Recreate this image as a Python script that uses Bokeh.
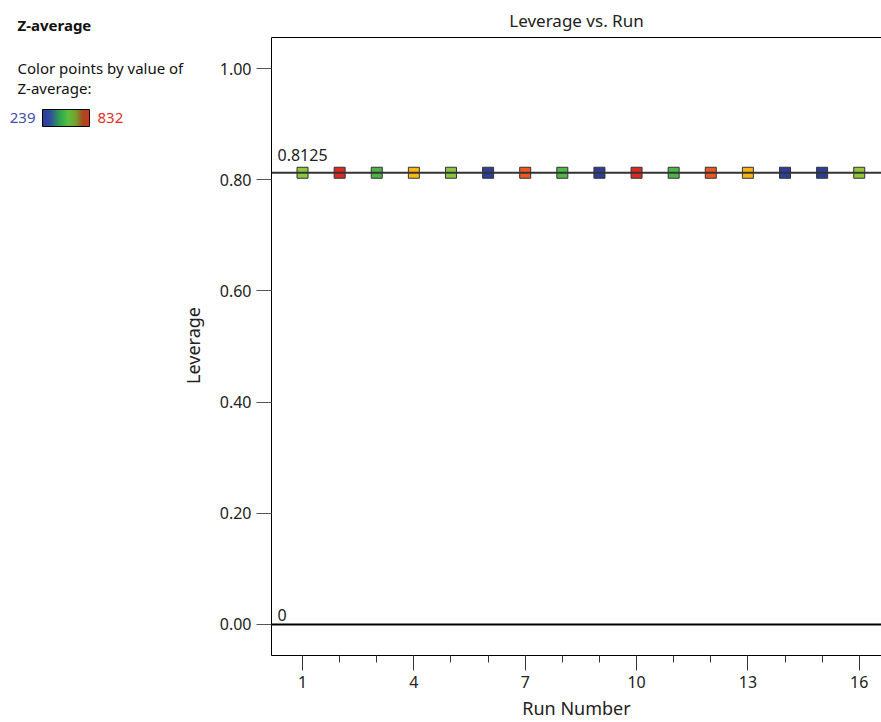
import math
from bokeh.plotting import figure
from bokeh.layouts import row
from bokeh.models import (ColumnDataSource, LinearColorMapper, ColorBar, Span, Label,
                          FixedTicker, LinearAxis, Range1d, PrintfTickFormatter)
from bokeh.embed import file_html
from bokeh.resources import INLINE

# ---- data ----
runs = list(range(1, 17))
leverage = [0.8125] * 16
z_average = [560, 832, 480, 650, 555, 250, 740, 490, 245, 820, 485, 745, 655, 239, 255, 565]
z_low, z_high = 239, 832
lev_ref = 0.8125
zero_ref = 0.0
y_ticks = [0.0, 0.2, 0.4, 0.6, 0.8, 1.0]
x_major = [1, 4, 7, 10, 13, 16]
x_minor = list(range(1, 17))
x_lo, x_hi = 0.164, 16.6
y_lo, y_hi = -0.0558, 1.0558

FONT = "Noto Sans"
W, H = 881, 722
LW = 215          # width of left legend panel
F_TOP, F_BOT = 37, 655   # frame top / bottom in page pixels

def hex2rgb(h):
    h = h.lstrip("#")
    return tuple(int(h[i:i + 2], 16) for i in (0, 2, 4))

def build_palette(stops, n=256):
    out = []
    for i in range(n):
        t = i / (n - 1)
        for (t0, c0), (t1, c1) in zip(stops[:-1], stops[1:]):
            if t0 <= t <= t1:
                f = 0 if t1 == t0 else (t - t0) / (t1 - t0)
                a, b = hex2rgb(c0), hex2rgb(c1)
                out.append("#%02x%02x%02x" % tuple(round(a[k] + (b[k] - a[k]) * f) for k in range(3)))
                break
    return out

point_palette = build_palette([(0.0, "#2c3e98"), (0.12, "#2c3e98"), (0.42, "#4db848"),
                               (0.54, "#8cc63f"), (0.69, "#fbba13"), (0.845, "#ee5a22"),
                               (0.97, "#dc2a25"), (1.0, "#dc2a25")])
bar_palette = build_palette([(0.0, "#2e3a9c"), (0.15, "#2f4aa0"), (0.38, "#2fa84a"),
                             (0.55, "#5cc040"), (0.72, "#7a9a2a"), (0.85, "#a0501e"),
                             (1.0, "#d8301e")])

mapper = LinearColorMapper(palette=point_palette, low=z_low, high=z_high)
bar_mapper = LinearColorMapper(palette=bar_palette, low=z_low, high=z_high)

src = ColumnDataSource(dict(run=runs, lev=leverage, z=z_average))

# ---------------- main plot ----------------
p = figure(width=W - LW, height=H, output_backend="svg", toolbar_location=None,
           x_range=Range1d(x_lo, x_hi), y_range=Range1d(y_lo, y_hi),
           min_border_left=271 - LW, min_border_right=0, min_border_top=F_TOP,
           min_border_bottom=H - F_BOT, title="Leverage vs. Run")
p.title.align = "center"
p.title.text_font = FONT
p.title.text_font_size = "17px"
p.title.text_font_style = "normal"
p.title.text_color = "#222222"
p.title.standoff = 12

p.outline_line_color = None
p.xgrid.visible = False
p.ygrid.visible = False

xa = p.below[0]
ya = p.left[0]

top = LinearAxis(major_tick_line_color=None, minor_tick_line_color=None,
                 major_label_text_font_size="0px", axis_line_color="black",
                 major_label_standoff=0, ticker=FixedTicker(ticks=[]))
p.add_layout(top, "above")

xa.ticker = FixedTicker(ticks=x_major, minor_ticks=x_minor)
xa.axis_label = "Run Number"
xa.axis_label_text_font = FONT
xa.axis_label_text_font_size = "18px"
xa.axis_label_text_font_style = "normal"
xa.axis_label_text_color = "#222222"
xa.major_label_text_font = FONT
xa.major_label_text_font_size = "16px"
xa.major_label_text_color = "#222222"
xa.major_tick_out = 15
xa.major_tick_in = 0
xa.minor_tick_out = 7
xa.minor_tick_in = 0
xa.major_tick_line_color = "#333333"
xa.minor_tick_line_color = "#333333"
xa.axis_line_color = "black"
xa.major_label_standoff = 5
xa.axis_label_standoff = 5

ya.ticker = FixedTicker(ticks=y_ticks, minor_ticks=[])
ya.major_label_text_font = FONT
ya.major_label_text_font_size = "16px"
ya.major_label_text_color = "#222222"
ya.major_tick_out = 15
ya.major_tick_in = 0
ya.minor_tick_line_color = None
ya.major_tick_line_color = "#555555"
ya.axis_line_color = "black"
ya.major_label_standoff = 5
ya.formatter = PrintfTickFormatter(format="%.2f")

p.add_layout(Span(location=lev_ref, dimension="width", line_color="#333333", line_width=2))
p.add_layout(Span(location=zero_ref, dimension="width", line_color="black", line_width=2))
p.add_layout(Label(x=x_lo, y=lev_ref, x_offset=6, y_offset=12, text="%g" % lev_ref,
                   text_font=FONT, text_font_size="16px", text_color="#222222"))
p.add_layout(Label(x=x_lo, y=zero_ref, x_offset=6, y_offset=3, text="%g" % zero_ref,
                   text_font=FONT, text_font_size="16px", text_color="#222222"))

p.scatter("run", "lev", source=src, marker="square", size=11,
          fill_color={"field": "z", "transform": mapper},
          line_color="#333333", line_width=1)

# ---------------- left legend panel ----------------
lp = figure(width=LW, height=H, output_backend="svg", toolbar_location=None,
            x_range=Range1d(0, LW), y_range=Range1d(0, H),
            min_border=0, min_border_left=0, min_border_right=0,
            min_border_top=0, min_border_bottom=0)
lp.frame_align = False
lp.axis.visible = False
lp.grid.visible = False
lp.outline_line_color = None

def lab(x, ytop, text, color="#111111", bold=False, align="left", size="16px", angle=0):
    lp.add_layout(Label(x=x, y=H - ytop, x_units="screen", y_units="screen", text=text,
                        text_font=FONT, text_font_size=size, text_color=color,
                        text_font_style="bold" if bold else "normal",
                        text_baseline="middle", text_align=align, angle=angle))

lab(17, 24, "Z-average", bold=True, size="15px")
lab(17, 67, "Color points by value of", size="15px")
lab(17, 87, "Z-average:", size="15px")
lab(35, 117, str(z_low), color="#3f4fae", align="right", size="15px")
lab(97, 117, str(z_high), color="#e0302a", size="15px")
lab(192, 345, "Leverage", align="center", size="18px", angle=math.pi / 2, color="#222222")

cb = ColorBar(color_mapper=bar_mapper, orientation="horizontal", width=47, height=17,
              location=(42, H - 126), padding=0, margin=0,
              major_label_text_font_size="0px", major_tick_line_color=None,
              minor_tick_line_color=None, bar_line_color="black", bar_line_width=1,
              label_standoff=0, background_fill_alpha=0, border_line_color=None,
              ticker=FixedTicker(ticks=[]))
lp.add_layout(cb, "center")

layout = row(lp, p, spacing=0)
open("out.html", "w").write(file_html(layout, INLINE))
